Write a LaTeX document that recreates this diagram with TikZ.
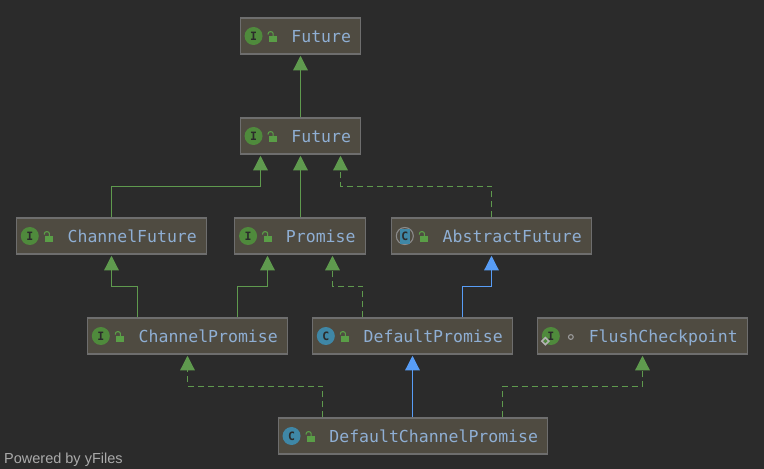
\documentclass[tikz,border=0pt]{standalone}
\usepackage{fontspec}
\setmainfont{Liberation Sans}
\newfontfamily\codefont{DejaVu Sans Mono}
\usetikzlibrary{calc,arrows.meta}
\definecolor{canvas}{HTML}{2B2B2B}
\definecolor{boxfill}{HTML}{4F4B41}
\definecolor{boxedge}{HTML}{6E6E6E}
\definecolor{labelblue}{HTML}{8FAFD4}
\definecolor{extgreen}{HTML}{5F9A4E}
\definecolor{extblue}{HTML}{589DF6}
\definecolor{ifacegreen}{HTML}{4F8A3C}
\definecolor{classteal}{HTML}{3F87A6}
\definecolor{lockgreen}{HTML}{5A9E47}
\tikzset{
	classbox/.style={draw=boxedge, fill=boxfill, line width=1.1pt, minimum height=36pt, inner xsep=9.85pt, inner ysep=0pt, text height=12pt, text depth=0pt, text=labelblue, font=\codefont\fontsize{16.5}{18}\selectfont},
	iconmark/.style={circle, minimum size=18pt, inner sep=0pt, text=canvas, font=\codefont\bfseries\fontsize{11.5}{12}\selectfont},
	solidlink/.style={draw=extgreen, line width=1.2pt, shorten >=1.2pt, -{Triangle[width=14.5pt,length=14.5pt,fill=extgreen]}},
	dashlink/.style={solidlink, dash pattern=on 6pt off 4pt},
	bluelink/.style={solidlink, draw=extblue, -{Triangle[width=14.5pt,length=14.5pt,fill=extblue]}},
}
\def\boxicon#1#2#3{\node[iconmark, fill=#2] (#1-icon) at ($(#1.west)+(14,0)$) {#3};}
\def\lockmark#1{
	\fill[lockgreen] ($(#1.west)+(29.5,0)$) rectangle ($(#1.west)+(37.5,5.7)$);
	\draw[lockgreen, line width=1.1pt, rounded corners=2pt] ($(#1.west)+(28.6,-1.5)$) -- ($(#1.west)+(28.6,-4.3)$) -- ($(#1.west)+(33.6,-4.3)$) -- ($(#1.west)+(33.6,0)$);
}
\begin{document}
\begin{tikzpicture}[x=1pt, y=-1pt]
			%%%%% START %%%%%
			\useasboundingbox (0, 0) rectangle (764, 469);
			\fill[canvas] (0, 0) rectangle (764, 469);
			
			\node[classbox] (futureA) at (300.5, 36) {\hspace*{41.5pt}Future};
			\node[classbox] (futureB) at (300.5, 136) {\hspace*{41.5pt}Future};
			\node[classbox] (channelFuture) at (111.5, 236) {\hspace*{41.5pt}ChannelFuture};
			\node[classbox] (promise) at (300, 236) {\hspace*{41.5pt}Promise};
			\node[classbox] (abstractFuture) at (491.5, 236) {\hspace*{41.5pt}AbstractFuture};
			\node[classbox] (channelPromise) at (187.5, 336) {\hspace*{41.5pt}ChannelPromise};
			\node[classbox] (defaultPromise) at (412.5, 336) {\hspace*{41.5pt}DefaultPromise};
			\node[classbox] (flushCheckpoint) at (642.5, 336) {\hspace*{41.5pt}FlushCheckpoint};
			\node[classbox] (defaultChannel) at (413, 436) {\hspace*{41.5pt}DefaultChannelPromise};
			
			\boxicon{futureA}{ifacegreen}{I}
			\lockmark{futureA}
			\boxicon{futureB}{ifacegreen}{I}
			\lockmark{futureB}
			\boxicon{channelFuture}{ifacegreen}{I}
			\lockmark{channelFuture}
			\boxicon{promise}{ifacegreen}{I}
			\lockmark{promise}
			\boxicon{channelPromise}{ifacegreen}{I}
			\lockmark{channelPromise}
			\boxicon{defaultPromise}{classteal}{C}
			\lockmark{defaultPromise}
			\boxicon{defaultChannel}{classteal}{C}
			\lockmark{defaultChannel}
			
			% abstract class icon
			\draw[boxedge!80!white, line width=1.1pt] ($(abstractFuture.west)+(14,0)$) circle (8.5);
			\fill[classteal] ($(abstractFuture.west)+(9.5,-7.5)$) rectangle ($(abstractFuture.west)+(19.5,7.5)$);
			\node[iconmark] (abstractFuture-icon) at ($(abstractFuture.west)+(14,0)$) {C};
			\lockmark{abstractFuture}
			
			% interface icon with badge
			\boxicon{flushCheckpoint}{ifacegreen}{I}
			\draw[black!30, line width=1.6pt] ($(flushCheckpoint.west)+(8.5,1.7)$) -- ($(flushCheckpoint.west)+(12,5.2)$) -- ($(flushCheckpoint.west)+(8.5,8.7)$) -- ($(flushCheckpoint.west)+(5,5.2)$) -- cycle;
			\draw[black!40, line width=1.1pt] ($(flushCheckpoint.west)+(34,1)$) circle (2.4);
			
			\draw[solidlink] (futureB.north) -- (futureA.south);
			\draw[solidlink] (channelFuture.north) -- ++(0, -31) -| ($(futureB.south)+(-40, 0)$);
			\draw[solidlink] (promise.north -| futureB.south) -- (futureB.south);
			\draw[dashlink] (abstractFuture.north) -- ++(0, -31) -| ($(futureB.south)+(40, 0)$);
			
			\draw[solidlink] ($(channelPromise.north)+(-50, 0)$) -- ++(0, -31) -| (channelFuture.south);
			\draw[solidlink] ($(channelPromise.north)+(50, 0)$) -- ++(0, -31) -| ($(promise.south)+(-32.5, 0)$);
			\draw[dashlink] ($(defaultPromise.north)+(-50, 0)$) -- ++(0, -31) -| ($(promise.south)+(32.5, 0)$);
			\draw[bluelink] ($(defaultPromise.north)+(50, 0)$) -- ++(0, -31) -| (abstractFuture.south);
			
			\draw[dashlink] ($(defaultChannel.north)+(-90.5, 0)$) -- ++(0, -31) -| (channelPromise.south);
			\draw[bluelink] ($(defaultChannel.north)+(-0.5, 0)$) -- (defaultPromise.south);
			\draw[dashlink] ($(defaultChannel.north)+(89.5, 0)$) -- ++(0, -31) -| (flushCheckpoint.south);
			
			\node[anchor=base west, inner sep=0pt, text=black!33, font=\fontsize{14.5}{17}\selectfont] (poweredBy) at (4, 463) {Powered by yFiles};
			%%%%% END %%%%%
\end{tikzpicture}
\end{document}
